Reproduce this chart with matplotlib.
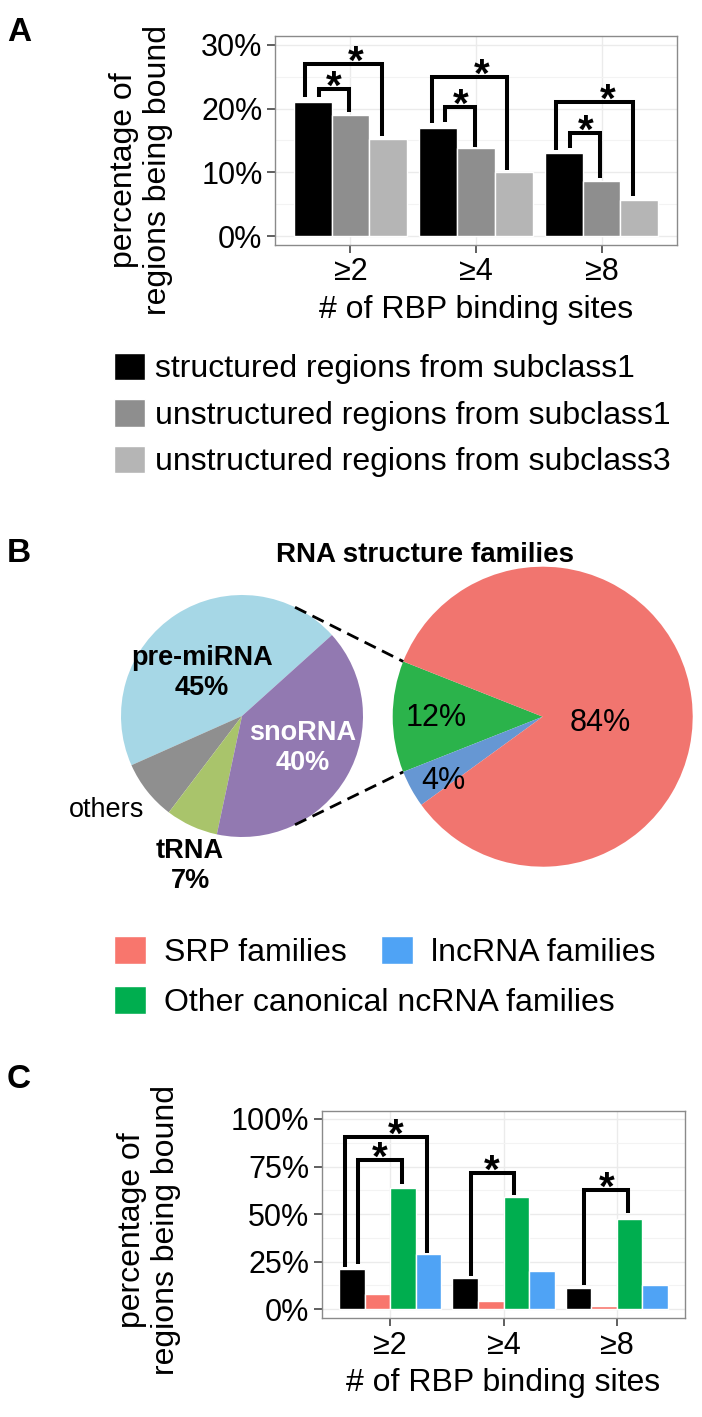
import numpy as np
import matplotlib
matplotlib.use('Agg')
import matplotlib.pyplot as plt

plt.rcParams['font.family'] = ['Liberation Sans', 'DejaVu Sans']

# ---- data ----
site_labels = ['≥2', '≥4', '≥8']

# panel A
a_series = ['structured regions from subclass1',
            'unstructured regions from subclass1',
            'unstructured regions from subclass3']
a_struct_sub1 = [21.0, 16.9, 13.1]
a_unstruct_sub1 = [19.0, 13.8, 8.7]
a_unstruct_sub3 = [15.2, 10.0, 5.65]
a_ticks = [0, 10, 20, 30]
a_ticklabels = ['0%', '10%', '20%', '30%']
# significance brackets: category, left offset, right offset, top, left end, right end, star offset
a_brackets = [(0, -0.36, 0.25, 27.0, 21.8, 15.7, 0.045),
              (0, -0.25, -0.01, 23.1, 21.9, 19.5, -0.13),
              (1, -0.35, 0.246, 25.0, 17.7, 10.4, 0.048),
              (1, -0.246, -0.01, 20.2, 17.9, 14.0, -0.12),
              (2, -0.36, 0.25, 21.0, 13.5, 6.3, 0.048),
              (2, -0.254, -0.01, 16.1, 13.8, 9.1, -0.13)]

# panel B
left_labels = ['pre-miRNA', 'others', 'tRNA', 'snoRNA']
left_pct = [45, 8, 7, 40]
right_labels = ['Other canonical ncRNA families', 'lncRNA families', 'SRP families']
right_pct = [12, 4, 84]

# panel C
c_series = ['all', 'SRP families', 'Other canonical ncRNA families', 'lncRNA families']
c_all = [21.0, 16.3, 11.0]
c_srp = [7.9, 4.2, 1.4]
c_other = [63.7, 59.0, 47.5]
c_lnc = [29.0, 20.0, 12.5]
c_ticks = [0, 25, 50, 75, 100]
c_ticklabels = ['0%', '25%', '50%', '75%', '100%']
c_brackets = [(0, -0.40, 0.33, 90.5, 22.1, 29.5, 0.05),
              (0, -0.28, 0.105, 78.4, 23.7, 66.0, -0.09),
              (1, -0.29, 0.09, 71.6, 17.4, 60.0, -0.10),
              (2, -0.29, 0.10, 62.6, 12.6, 50.5, -0.09)]

W, H = 702, 1417
fig = plt.figure(figsize=(W / 100, H / 100), dpi=100)


def px_axes(left, top, right, bottom):
    return fig.add_axes([left / W, 1 - bottom / H, (right - left) / W, (bottom - top) / H])


def style_bw(ax, ticks, ticklabels, minor):
    ax.set_facecolor('white')
    for s in ax.spines.values():
        s.set_color('#8a8a8a')
        s.set_linewidth(1.0)
    ax.set_yticks(ticks)
    ax.set_yticklabels(ticklabels)
    ax.set_yticks(minor, minor=True)
    ax.set_xticks(range(3))
    ax.set_xticklabels(site_labels)
    ax.grid(True, which='major', color='#ebebeb', lw=1.0)
    ax.grid(True, which='minor', axis='y', color='#f3f3f3', lw=0.8)
    ax.set_axisbelow(True)
    ax.tick_params(which='major', length=6, width=1.2, color='#444444',
                   labelsize=22, pad=3)
    ax.tick_params(which='minor', length=0)


def brackets(ax, items, lw=2.9):
    for cat, lo, ro, top, ly, ry, so in items:
        ax.plot([cat + lo, cat + lo, cat + ro, cat + ro], [ly, top, top, ry],
                color='black', lw=lw, solid_joinstyle='miter', solid_capstyle='butt')
        ax.annotate('*', (cat + so, top), xytext=(0, -7), textcoords='offset points',
                    ha='center', va='baseline', fontsize=29, fontweight='bold')


x = np.arange(3)

# ---- panel A ----
axA = px_axes(275, 36, 677, 245)
wA = 0.3
a_vals = [a_struct_sub1, a_unstruct_sub1, a_unstruct_sub3]
a_cols = ['#000000', '#8e8e8e', '#b5b5b5']
a_bars = []
for i, (v, c) in enumerate(zip(a_vals, a_cols)):
    a_bars.append(axA.bar(x + (i - 1) * wA, v, wA, color=c, edgecolor='white', lw=1.0))
axA.set_xlim(-0.6, 2.6)
axA.set_ylim(-1.4, 31.4)
style_bw(axA, a_ticks, a_ticklabels, [5, 15, 25])
brackets(axA, a_brackets)

fig.text(7 / W, 1 - 17 / H, 'A', fontsize=24, fontweight='bold', va='top', ha='left')
fig.text(141 / W, 1 - 170 / H, 'percentage of\nregions being bound', rotation=90,
         ha='center', va='center', fontsize=23)
fig.text(476 / W, 1 - 310 / H, '# of RBP binding sites', ha='center', va='center', fontsize=23)

fig.legend(a_bars, a_series, loc='center left', bbox_to_anchor=(114 / W, 1 - 415 / H),
           frameon=False, fontsize=23, handlelength=0.97, handleheight=0.94,
           handletextpad=0.3, labelspacing=0.46, borderpad=0, borderaxespad=0)

# ---- panel B ----
axB = px_axes(0, 520, W, 1040)
lcen = (242, -716)
lrad = 121
rcen = (542.7, -716.7)
rrad = 150
l_start = 42
r_start = 180 - right_pct[0] * 3.6 / 2
axB.pie(left_pct, colors=['#a6d7e6', '#8f8f8f', '#a9c46b', '#9279b1'],
        startangle=l_start, center=lcen, radius=lrad, counterclock=True,
        wedgeprops=dict(linewidth=0))
axB.pie(right_pct, colors=['#2bb34b', '#6697d3', '#f1756f'],
        startangle=r_start, center=rcen, radius=rrad, counterclock=True,
        wedgeprops=dict(linewidth=0))
axB.set_xlim(0, W)
axB.set_ylim(-1040, -520)
axB.axis('off')

# zoom lines from the left pie to the green wedge
for la, ra in [(64, r_start), (-64, r_start + right_pct[0] * 3.6)]:
    p0 = (lcen[0] + lrad * np.cos(np.radians(la)), lcen[1] + lrad * np.sin(np.radians(la)))
    p1 = (rcen[0] + rrad * np.cos(np.radians(ra)), rcen[1] + rrad * np.sin(np.radians(ra)))
    axB.plot([p0[0], p1[0]], [p0[1], p1[1]], color='black', lw=2.0,
             linestyle=(0, (4.5, 2.5)))

axB.text(202, -673, 'pre-miRNA\n45%', ha='center', va='center', fontsize=19.5,
         fontweight='bold', linespacing=1.2)
axB.text(303, -748, 'snoRNA\n40%', ha='center', va='center', fontsize=19.5,
         fontweight='bold', color='white', linespacing=1.2)
axB.text(190, -866, 'tRNA\n7%', ha='center', va='center', fontsize=19.5,
         fontweight='bold', linespacing=1.2)
axB.text(107, -810, 'others', ha='center', va='center', fontsize=19.5)
axB.text(436, -718, '12%', ha='center', va='center', fontsize=22)
axB.text(443, -781, '4%', ha='center', va='center', fontsize=22)
axB.text(600, -723, '84%', ha='center', va='center', fontsize=22)

fig.text(7 / W, 1 - 538 / H, 'B', fontsize=24, fontweight='bold', va='top', ha='left')
fig.text(425 / W, 1 - 555 / H, 'RNA structure families', ha='center', va='center',
         fontsize=20, fontweight='bold')

# ---- panel C ----
axC = px_axes(322, 1111, 685, 1318)
wC = 0.225
c_vals = [c_all, c_srp, c_other, c_lnc]
c_cols = ['#000000', '#f8766d', '#00ae4f', '#4fa3f5']
c_bars = []
for i, (v, c) in enumerate(zip(c_vals, c_cols)):
    c_bars.append(axC.bar(x + (i - 1.5) * wC, v, wC, color=c, edgecolor='white', lw=1.0))
axC.set_xlim(-0.6, 2.6)
axC.set_ylim(-4.7, 104.2)
style_bw(axC, c_ticks, c_ticklabels, [12.5, 37.5, 62.5, 87.5])
brackets(axC, c_brackets)

fig.text(7 / W, 1 - 1064 / H, 'C', fontsize=24, fontweight='bold', va='top', ha='left')
fig.text(149 / W, 1 - 1230 / H, 'percentage of\nregions being bound', rotation=90,
         ha='center', va='center', fontsize=23)
fig.text(503 / W, 1 - 1383 / H, '# of RBP binding sites', ha='center', va='center', fontsize=23)

# panel B legend uses the panel C colours
fig.legend([c_bars[1], c_bars[3]], [c_series[1], c_series[3]], ncol=2,
           loc='center left', bbox_to_anchor=(114 / W, 1 - 952 / H),
           frameon=False, fontsize=23, handlelength=1.0, handleheight=0.94,
           handletextpad=0.55, columnspacing=1.1, borderpad=0, borderaxespad=0)
fig.legend([c_bars[2]], [c_series[2]], loc='center left',
           bbox_to_anchor=(114 / W, 1 - 1002 / H),
           frameon=False, fontsize=23, handlelength=1.0, handleheight=0.94,
           handletextpad=0.55, borderpad=0, borderaxespad=0)

fig.savefig('out.png', dpi=100)
